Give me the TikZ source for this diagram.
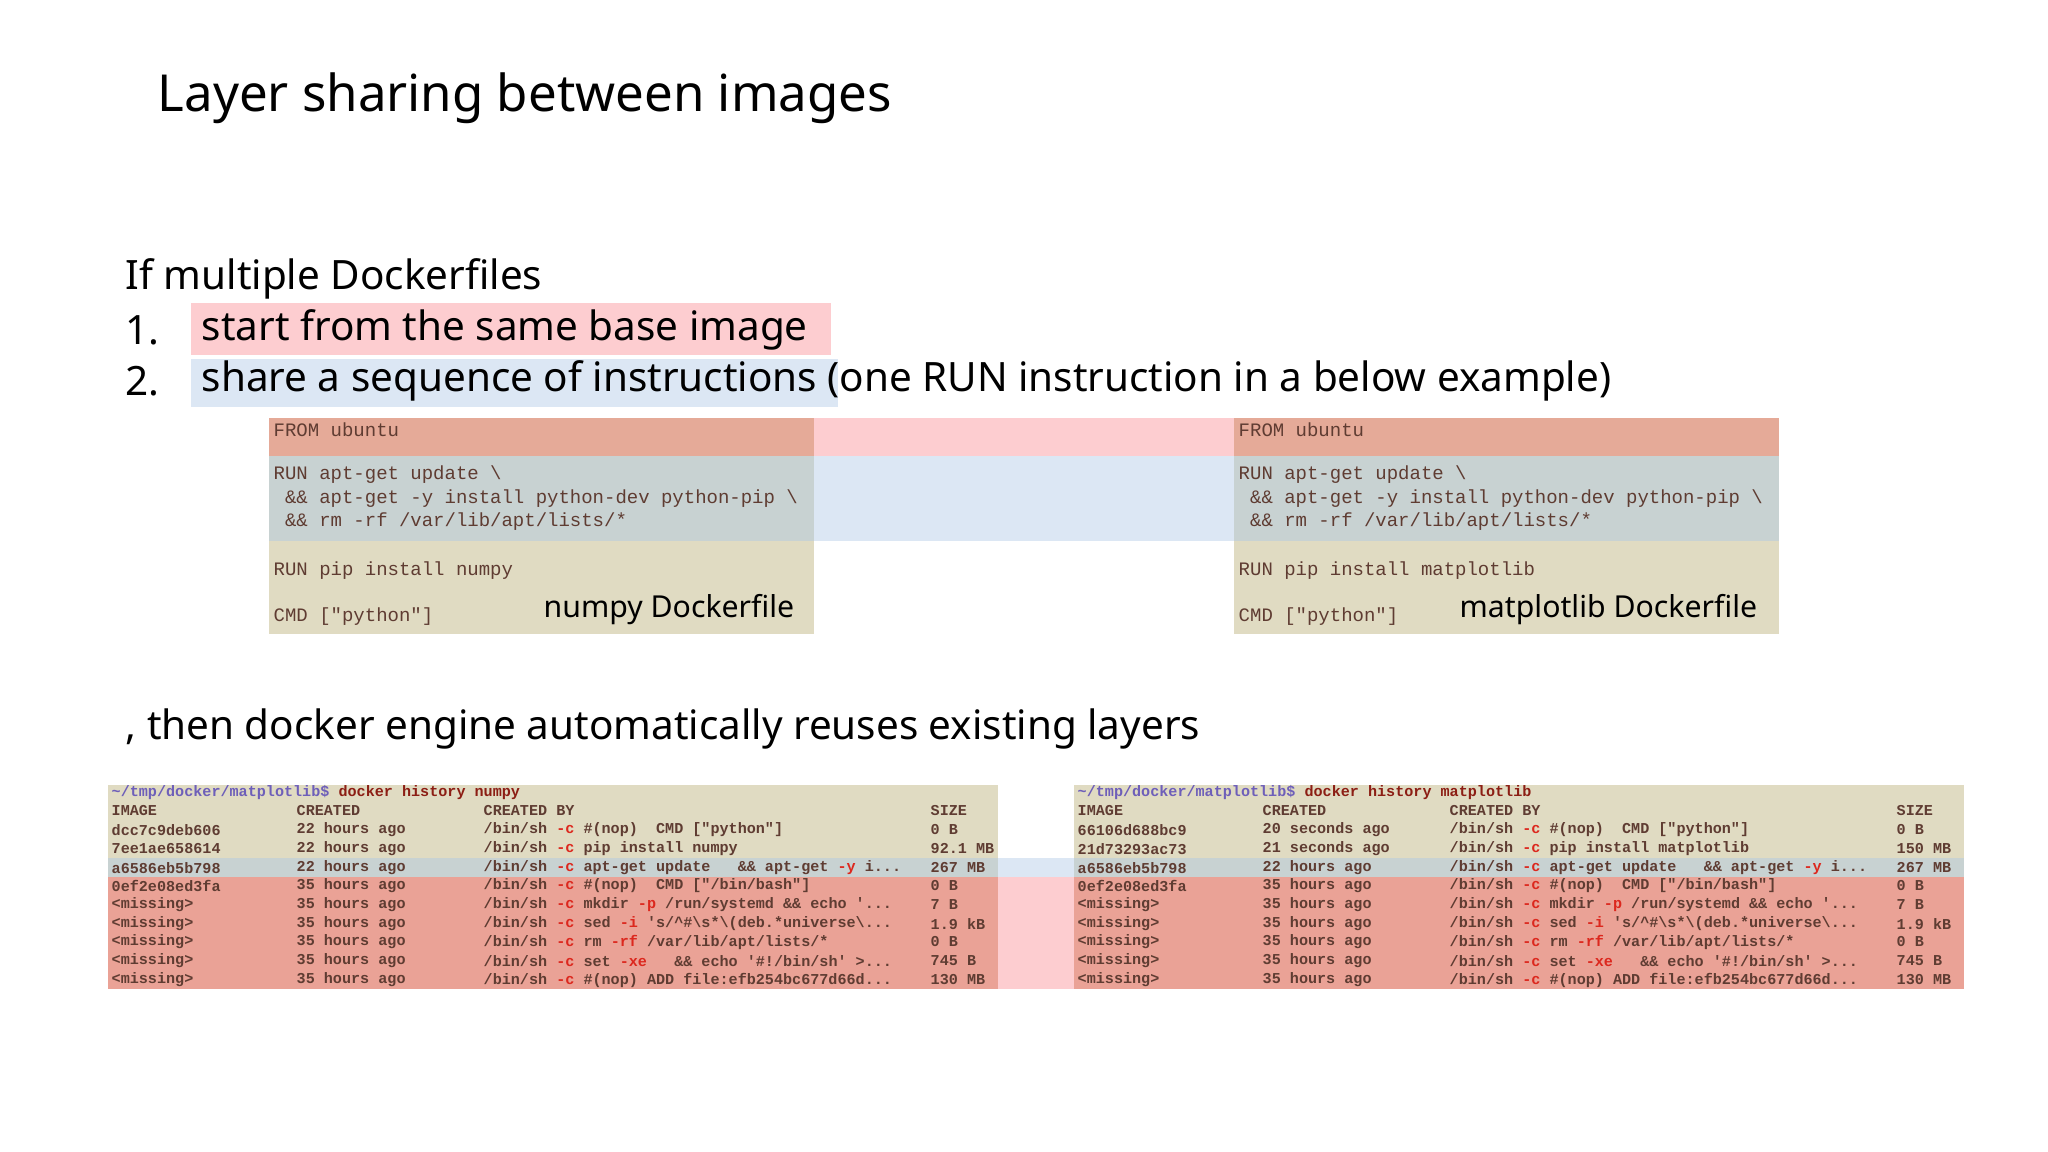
\documentclass[tikz,border=0pt]{standalone}
\usepackage{fontspec}
\setmainfont{Noto Sans}
\setmonofont{Liberation Mono}
\definecolor{hlpink}{RGB}{253,205,208}
\definecolor{hlblue}{RGB}{220,231,244}
\definecolor{fromband}{RGB}{229,170,152}
\definecolor{runband}{RGB}{200,210,210}
\definecolor{beige}{RGB}{224,219,194}
\definecolor{redrow}{RGB}{234,162,150}
\definecolor{ink}{RGB}{95,60,50}
\definecolor{prompt}{RGB}{110,95,185}
\definecolor{flag}{RGB}{220,40,30}
\definecolor{cmdred}{RGB}{140,30,20}
\tikzset{
  big/.style={anchor=west,inner sep=0pt,font=\fontsize{14.5}{16}\selectfont},
  body/.style={anchor=west,inner sep=0pt,font=\fontsize{11.5}{13}\selectfont},
  code/.style={anchor=west,inner sep=0pt,text=ink,font=\ttfamily\fontsize{5.4}{6}\selectfont},
  lbl/.style={anchor=west,inner sep=0pt,font=\bfseries\fontsize{8.6}{10}\selectfont},
  tt/.style={anchor=west,inner sep=0pt,text=ink,font=\ttfamily\bfseries\fontsize{4.3}{5}\selectfont},
}
\newcommand{\Rf}[1]{\textcolor{flag}{#1}}
\begin{document}
\begin{tikzpicture}[x=0.01cm,y=-0.01cm]
\useasboundingbox (0,0) rectangle (2048,1152);
% title
\node[big] (title) at (157,98) {Layer sharing between images};
% highlights
\fill[hlpink] (191,303) rectangle (831,355);
\fill[hlblue] (191,359) rectangle (838,407);
\node[body] (t0) at (125,279) {If multiple Dockerfiles};
\node[body] (n1) at (125,330) {1.};
\node[body] (t1) at (201,330) {start from the same base image};
\node[body] (n2) at (125,381) {2.};
\node[body] (t2) at (201,381) {share a sequence of instructions (one RUN instruction in a below example)};
% dockerfile boxes
\fill[hlpink] (814,418) rectangle (1234,456);
\fill[hlblue] (814,456) rectangle (1234,541);
\foreach \x in {269,1234}{
  \fill[fromband] (\x,418) rectangle (\x+545,456);
  \fill[runband] (\x,456) rectangle (\x+545,541);
  \fill[beige] (\x,541) rectangle (\x+545,634);
  \node[code] at (\x+4,430) {FROM ubuntu};
  \node[code] at (\x+4,475) {RUN apt-get update \textbackslash};
  \node[code] at (\x+4,499) {\ \&\& apt-get -y install python-dev python-pip \textbackslash};
  \node[code] at (\x+4,522) {\ \&\& rm -rf /var/lib/apt/lists/*};
  \node[code] at (\x+4,617) {CMD ["python"]};
}
\node[code] (pipa) at (273,571) {RUN pip install numpy};
\node[code] (pipb) at (1238,571) {RUN pip install matplotlib};
\node[lbl] (la) at (543,610) {numpy Dockerfile};
\node[lbl] (lb) at (1459,610) {matplotlib Dockerfile};
% then
\node[body] (t3) at (125,729) {, then docker engine automatically reuses existing layers};
% tables
\fill[hlblue] (998,858) rectangle (1074,877);
\fill[hlpink] (998,877) rectangle (1074,989);
\foreach \x in {108,1074}{
  \fill[beige] (\x,785) rectangle (\x+890,858);
  \fill[runband] (\x,858) rectangle (\x+890,877);
  \fill[redrow] (\x,877) rectangle (\x+890,989);
}
\newcommand{\trow}[6]{%
  \node[tt] at (#1+3,#2) {#3};
  \node[tt] at (#1+188,#2) {#4};
  \node[tt] at (#1+375,#2) {#5};
  \node[tt] at (#1+822,#2) {#6};}
\newcommand{\common}[1]{%
  \trow{#1}{868}{a6586eb5b798}{22 hours ago}{/bin/sh \Rf{-c} apt-get update \ \ \&\& apt-get \Rf{-y} i...}{267 MB}
  \trow{#1}{886}{0ef2e08ed3fa}{35 hours ago}{/bin/sh \Rf{-c} \#(nop) \ CMD ["/bin/bash"]}{0 B}
  \trow{#1}{905}{<missing>}{35 hours ago}{/bin/sh \Rf{-c} mkdir \Rf{-p} /run/systemd \&\& echo '...}{7 B}
  \trow{#1}{924}{<missing>}{35 hours ago}{/bin/sh \Rf{-c} sed \Rf{-i} 's/\textasciicircum\#\textbackslash s*\textbackslash(deb.*universe\textbackslash...}{1.9 kB}
  \trow{#1}{942}{<missing>}{35 hours ago}{/bin/sh \Rf{-c} rm \Rf{-rf} /var/lib/apt/lists/*}{0 B}
  \trow{#1}{961}{<missing>}{35 hours ago}{/bin/sh \Rf{-c} set \Rf{-xe} \ \ \&\& echo '\#!/bin/sh' >...}{745 B}
  \trow{#1}{980}{<missing>}{35 hours ago}{/bin/sh \Rf{-c} \#(nop) ADD file:efb254bc677d66d...}{130 MB}}
\node[tt] (pa) at (111,793) {\textcolor{prompt}{\textasciitilde/tmp/docker/matplotlib\$} \textcolor{cmdred}{docker history numpy}};
\trow{108}{811}{IMAGE}{CREATED}{CREATED BY}{SIZE}
\trow{108}{830}{dcc7c9deb606}{22 hours ago}{/bin/sh \Rf{-c} \#(nop) \ CMD ["python"]}{0 B}
\trow{108}{849}{7ee1ae658614}{22 hours ago}{/bin/sh \Rf{-c} pip install numpy}{92.1 MB}
\common{108}
\node[tt] (pb) at (1077,793) {\textcolor{prompt}{\textasciitilde/tmp/docker/matplotlib\$} \textcolor{cmdred}{docker history matplotlib}};
\trow{1074}{811}{IMAGE}{CREATED}{CREATED BY}{SIZE}
\trow{1074}{830}{66106d688bc9}{20 seconds ago}{/bin/sh \Rf{-c} \#(nop) \ CMD ["python"]}{0 B}
\trow{1074}{849}{21d73293ac73}{21 seconds ago}{/bin/sh \Rf{-c} pip install matplotlib}{150 MB}
\common{1074}
\end{tikzpicture}
\end{document}
